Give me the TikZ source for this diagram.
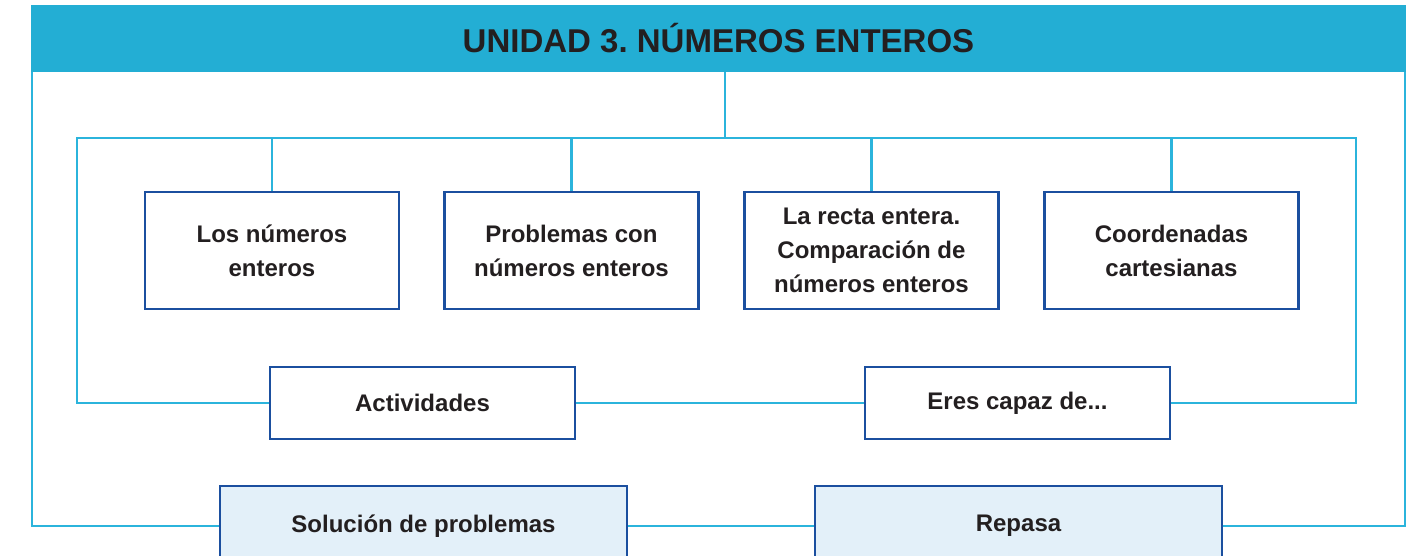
\documentclass[tikz,border=0pt]{standalone}
\usepackage{fontspec}
\setmainfont{Liberation Sans}
\frenchspacing
\definecolor{cabecera}{HTML}{23AED4}
\definecolor{linea}{HTML}{2BB4DC}
\definecolor{borde}{HTML}{1B4F9F}
\definecolor{relleno}{HTML}{E3F0F9}
\definecolor{texto}{HTML}{231F20}
\tikzset{
  caja/.style={draw=borde, line width=2.8pt, fill=white, minimum width=254pt,
    minimum height=117pt, align=center, text=texto, inner sep=0pt,
    font=\bfseries\fontsize{24}{34}\selectfont},
  cajaancha/.style={caja, minimum width=305pt, minimum height=72pt},
  cajarepaso/.style={caja, fill=relleno, minimum width=407pt, minimum height=80pt},
  conector/.style={draw=linea, line width=2.2pt},
}
\begin{document}
\begin{tikzpicture}[x=1pt,y=-1pt]
	\useasboundingbox (0,0) rectangle (1415,556);

	% Cabecera
	\node[fill=cabecera, minimum width=1375pt, minimum height=67pt, inner sep=0pt,
	      text=texto, font=\bfseries\fontsize{33}{36}\selectfont] (cabeza) at (718.5,38.5)
	      {UNIDAD 3. NÚMEROS ENTEROS};

	% Apartados
	\node[caja] (num)   at (272,250.5)    {Los números\\enteros};
	\node[caja] (prob)  at (571.5,250.5)  {Problemas con\\números enteros};
	\node[caja] (recta) at (871.5,250.5)  {La recta entera.\\Comparación de\\números enteros};
	\node[caja] (coord) at (1171.5,250.5) {Coordenadas\\cartesianas};

	\node[cajaancha] (act)  at (422.5,403)  {Actividades};
	\node[cajaancha] (eres) at (1017.5,403) {Eres capaz de...};

	\node[cajarepaso] (sol) at (423.5,526)  {Solución de problemas};
	\node[cajarepaso] (rep) at (1018.5,526) {Repasa};

	% Marco interior
	\coordinate (izq) at (77,138);
	\coordinate (der) at (1356,138);
	\coordinate (centro) at (725,138);
	\draw[conector] (centro) -- (centro |- cabeza.south);
	\draw[conector] (act.west) -| (izq) -- (der) |- (eres.east);
	\draw[conector] (act.east) -- (eres.west);
	\foreach \c in {num,prob,recta,coord}
		\draw[conector] (\c.north) -- (\c.north |- izq);

	% Marco exterior
	\draw[conector] (sol.west) -| ([xshift=1.2pt]cabeza.south west);
	\draw[conector] (sol.east) -- (rep.west);
	\draw[conector] (rep.east) -| ([xshift=-1.2pt]cabeza.south east);

\end{tikzpicture}
\end{document}
